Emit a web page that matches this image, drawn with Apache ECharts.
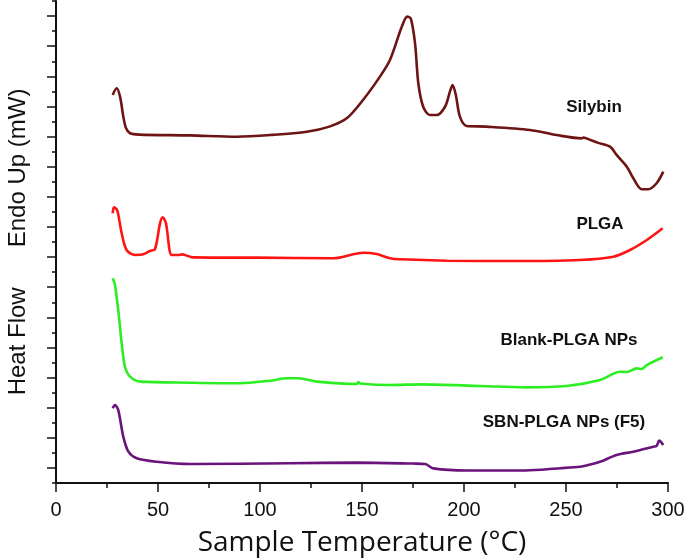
<!DOCTYPE html>
<html><head><meta charset="utf-8">
<script src="https://cdn.jsdelivr.net/npm/echarts@6/dist/echarts.min.js"></script>
<style>html,body{margin:0;padding:0;background:#fff}#c{width:685px;height:560px}</style>
</head><body><div id="c"></div>
<script>
// Temperature (°C) and heat-flow (arbitrary stacked units)
const silybinT = [27.8,29.7,31.4,33,34.3,36.3,41,65.7,88.6,106,123,134,142.5,150.5,158.8,163.7,169.5,172.2,173.9,176,177.6,180,183.3,186.6,190.7,193.1,194.4,196,198,201.3,211,232.4,245.4,257.7,258.5,262,265.8,271.6,274.8,279.8,283,287.1,290.3,294.4,297.7];
const silybinV = [25.76,26.21,25.65,24.32,23.57,23.22,23.13,23.08,22.99,23.11,23.32,23.66,24.21,25.43,26.98,28.08,30.29,30.96,30.85,29.19,26.54,24.98,24.43,24.43,24.98,25.98,26.42,25.76,24.32,23.70,23.66,23.44,23.10,22.88,22.93,22.77,22.58,22.33,21.78,21.00,20.23,19.50,19.50,19.90,20.67];

const plgaT = [27.8,28.4,30,32.2,34.6,38.7,42.8,46,48.5,51,52.3,53.9,56.7,60,61.7,67.3,98.4,136,150.6,157.2,163.7,168.6,191.5,224,256.9,273.2,281.4,289.6,297.4];
const plgaV = [17.91,18.30,18.12,16.58,15.47,15.14,15.18,15.40,15.52,17.24,17.64,17.24,15.14,15.14,15.18,14.98,14.96,14.92,15.29,15.20,14.92,14.85,14.76,14.74,14.81,15.02,15.47,16.13,16.91];

const blankT = [27.8,28.9,30.5,32.2,33.8,36.3,41.2,65.7,90.2,104.9,113,118.8,127.8,147.4,148.2,149,163.7,179.3,207.8,229.9,250.3,266.7,276.5,280,284.6,287,289.6,297.4];
const blankV = [13.59,13.15,11.49,9.27,7.72,7.06,6.73,6.66,6.62,6.79,6.95,6.95,6.73,6.57,6.71,6.61,6.51,6.55,6.44,6.35,6.44,6.84,7.39,7.37,7.61,7.57,7.83,8.35];

const sbnT = [27.8,28.9,30.5,33,35.5,39.6,49.4,65.7,114.7,147.4,175,181,185,201.5,230,247,256.9,261,266.7,274.8,283,292.8,294.4,295.7,297.7];
const sbnV = [4.96,5.18,4.85,3.07,2.08,1.64,1.41,1.26,1.31,1.35,1.29,1.26,0.97,0.83,0.83,0.98,1.08,1.2,1.41,1.86,2.08,2.41,2.46,2.81,2.52];

const seriesNames = ['Silybin','PLGA','Blank-PLGA NPs','SBN-PLGA NPs (F5)'];
const xTicks = [0,50,100,150,200,250,300];

const zip = (a,b) => a.map((t,i) => [t,b[i]]);
const colors = ['#6e1414','#ff1414','#2cee22','#6a137a'];
const sets = [[silybinT,silybinV],[plgaT,plgaV],[blankT,blankV],[sbnT,sbnV]];

const chart = echarts.init(document.getElementById('c'), null, {renderer:'canvas'});
const labelPos = [[594,107],[600,224],[569,340],[564,422]];
chart.setOption({
  animation:false,
  backgroundColor:'#fff',
  grid:{left:56,right:17,top:1,bottom:77,containLabel:false,outerBoundsMode:'none'},
  xAxis:{
    type:'value', min:xTicks[0], max:xTicks[xTicks.length-1], interval:50,
    name:'Sample Temperature (°C)', nameLocation:'middle', nameGap:46,
    nameTextStyle:{fontFamily:'Open Sans', fontSize:28, color:'#111'},
    axisLine:{lineStyle:{color:'#111',width:2}},
    axisTick:{show:true,length:9,lineStyle:{color:'#111',width:1.5}},
    minorTick:{show:true,splitNumber:2,length:5,lineStyle:{color:'#111',width:1.5}},
    axisLabel:{fontFamily:'Liberation Sans',fontSize:20,color:'#111',margin:17},
    splitLine:{show:false}
  },
  yAxis:{
    type:'value', min:0, max:32, interval:2,
    name:'Heat Flow      Endo Up (mW)', nameLocation:'middle', nameGap:26, nameRotate:90,
    nameTextStyle:{fontFamily:'Liberation Sans', fontSize:24, color:'#111'},
    axisLine:{show:true,lineStyle:{color:'#111',width:2}},
    axisTick:{show:true,length:4,lineStyle:{color:'#111',width:1.5}},
    minorTick:{show:true,splitNumber:2,length:9,lineStyle:{color:'#111',width:1.5}},
    axisLabel:{show:false},
    splitLine:{show:false}
  },
  series: sets.map((s,i) => ({
    type:'line', name:seriesNames[i], data:zip(s[0],s[1]),
    showSymbol:false, smooth:0.3,
    lineStyle:{color:colors[i],width:2.6}
  })),
  graphic: seriesNames.map((n,i) => ({
    type:'text', x:labelPos[i][0], y:labelPos[i][1],
    style:{text:n, fill:'#111', font:'bold 17px "Liberation Sans"', textAlign:'center', textVerticalAlign:'middle'}
  }))
});
</script></body></html>
